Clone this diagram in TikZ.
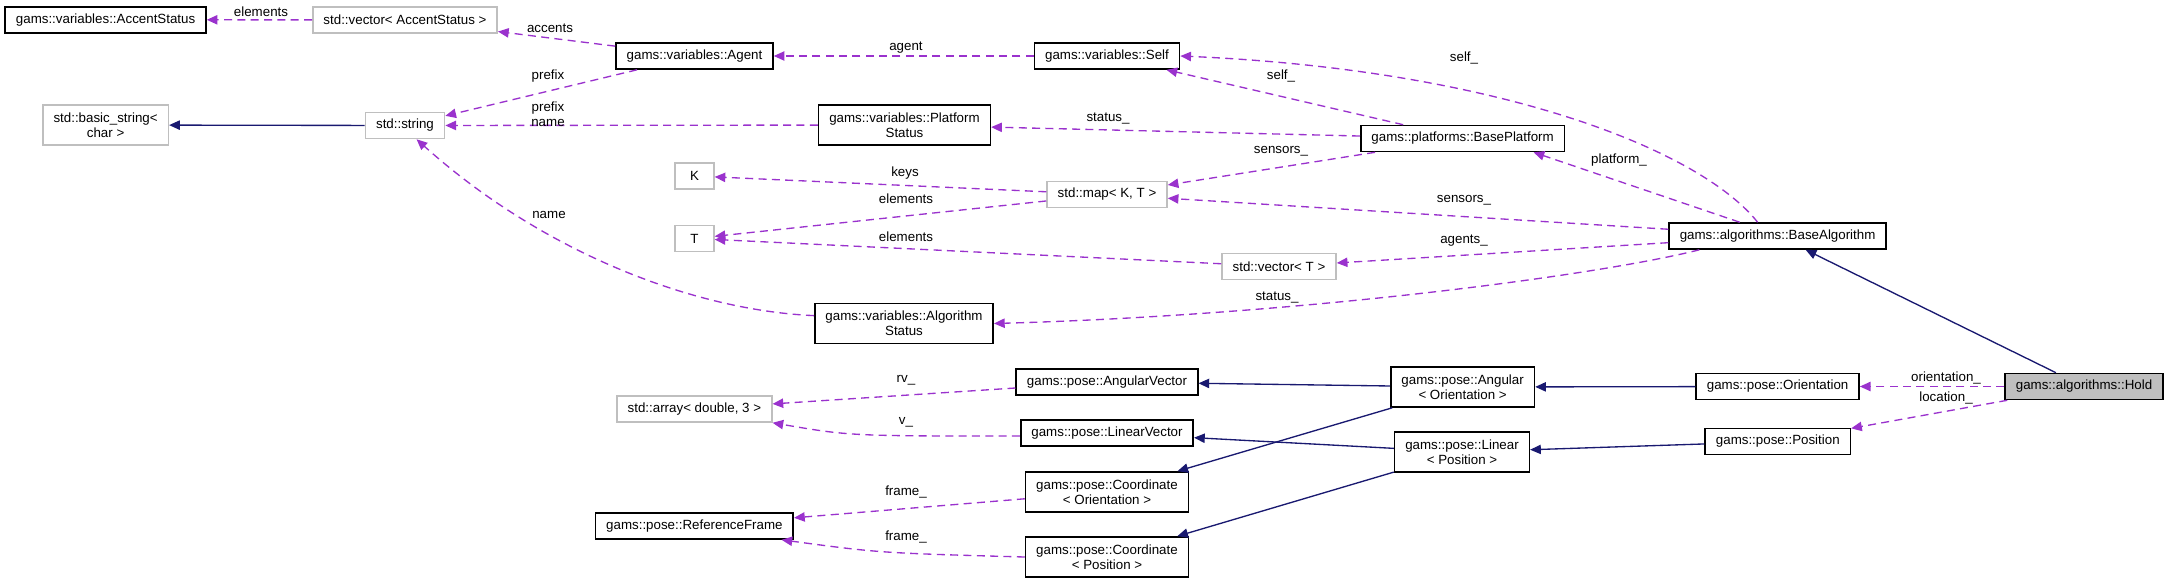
\documentclass[tikz,border=0pt]{standalone}
\usepackage{fontspec}
\setmainfont{Liberation Sans}
\usetikzlibrary{arrows.meta}
\definecolor{usecol}{HTML}{9A32CD}
\definecolor{inhcol}{HTML}{191970}
\definecolor{undoc}{HTML}{BFBFBF}

\begin{document}
\begin{tikzpicture}[x=0.75pt, y=-0.75pt,
    every node/.style={font=\fontsize{10}{11.25}\selectfont},
    cls/.style={draw=black, line width=1.2pt, inner xsep=8pt, inner ysep=0pt, minimum height=19.5pt, align=center},
    ext/.style={cls, draw=undoc},
    two/.style={minimum height=30pt},
    usage/.style={draw=usecol, line width=1pt, dash pattern=on 6pt off 4pt, -{Triangle[length=8pt,width=7pt]}},
    inh/.style={draw=inhcol, line width=1pt, -{Triangle[length=8pt,width=7pt]}},
    lbl/.style={inner sep=0pt, align=center}]
        \useasboundingbox (0,0) rectangle (2168,583);

        % classes
        \node[cls] (acc) at (105.6,19.7) {gams::variables::AccentStatus};
        \node[ext] (vacc) at (405,20) {std::vector< AccentStatus >};
        \node[cls] (agent) at (694.5,56) {gams::variables::Agent};
        \node[ext, two] (bstr) at (105.6,125) {std::basic\_string<\\char >};
        \node[ext] (str) at (405,125.5) {std::string};
        \node[cls] (self) at (1107,56) {gams::variables::Self};
        \node[cls, two] (pstat) at (904.5,125) {gams::variables::Platform\\Status};
        \node[cls] (bplat) at (1462.6,138.5) {gams::platforms::BasePlatform};
        \node[ext, minimum width=29pt] (kk) at (694.5,176) {K};
        \node[ext, minimum width=29pt] (tt) at (694.5,238.5) {T};
        \node[ext] (map) at (1107,194.5) {std::map< K, T >};
        \node[ext] (vt) at (1279,266.5) {std::vector< T >};
        \node[cls] (balg) at (1777.6,236) {gams::algorithms::BaseAlgorithm};
        \node[cls, two] (astat) at (904,323.5) {gams::variables::Algorithm\\Status};
        \node[cls] (avec) at (1107,382) {gams::pose::AngularVector};
        \node[ext] (arr) at (694.4,409) {std::array< double, 3 >};
        \node[cls] (lvec) at (1107,433) {gams::pose::LinearVector};
        \node[cls, two] (cori) at (1107,492) {gams::pose::Coordinate\\< Orientation >};
        \node[cls] (rf) at (694.4,526) {gams::pose::ReferenceFrame};
        \node[cls, two] (cpos) at (1107,557) {gams::pose::Coordinate\\< Position >};
        \node[cls, two] (ang) at (1462.6,387) {gams::pose::Angular\\< Orientation >};
        \node[cls, two] (lin) at (1462,452) {gams::pose::Linear\\< Position >};
        \node[cls] (ori) at (1777.6,386.5) {gams::pose::Orientation};
        \node[cls] (pos) at (1777.8,441.5) {gams::pose::Position};
        \node[cls, fill=undoc] (hold) at (2084,386.5) {gams::algorithms::Hold};

        % inheritance
        \draw[inh] (str) -- (bstr);
        \draw[inh] (hold) -- (balg);
        \draw[inh] (ori) -- (ang);
        \draw[inh] (pos) -- (lin);
        \draw[inh] (ang) -- (avec);
        \draw[inh] (ang) -- (cori);
        \draw[inh] (lin) -- (lvec);
        \draw[inh] (lin) -- (cpos);

        % members
        \draw[usage] (vacc) -- (acc) node[lbl] at (261,12) {elements};
        \draw[usage] (agent) -- (vacc) node[lbl] at (550,28) {accents};
        \draw[usage] (agent) -- (str) node[lbl] at (548,76) {prefix};
        \draw[usage] (self) -- (agent) node[lbl] at (906,48) {agent};
        \draw[usage] (pstat) -- (str) node[lbl] at (548,114) {prefix\\name};
        \draw[usage] (astat.175) .. controls (690,310) and (540,250) .. (str.-50) node[lbl] at (549,215) {name};
        \draw[usage] (bplat) -- (self) node[lbl] at (1281,76) {self\_};
        \draw[usage] (bplat) -- (pstat) node[lbl] at (1108,119) {status\_};
        \draw[usage] (bplat) -- (map) node[lbl] at (1281,151) {sensors\_};
        \draw[usage] (map) -- (kk) node[lbl] at (905,173) {keys};
        \draw[usage] (map) -- (tt) node[lbl] at (906,199) {elements};
        \draw[usage] (vt) -- (tt) node[lbl] at (906,237) {elements};
        \draw[usage] ([xshift=-15pt]balg.north) .. controls (1700,150) and (1500,70) .. (self.east) node[lbl] at (1464,58) {self\_};
        \draw[usage] (balg.160) -- (bplat.-11) node[lbl] at (1619,160) {platform\_};
        \draw[usage] (balg) -- (map) node[lbl] at (1464,200) {sensors\_};
        \draw[usage] (balg) -- (vt) node[lbl] at (1464,241) {agents\_};
        \draw[usage] (balg.-170) .. controls (1600,275) and (1300,315) .. (astat.east) node[lbl] at (1277,298) {status\_};
        \draw[usage] (hold) -- (ori) node[lbl] at (1946,378) {orientation\_};
        \draw[usage] (hold) -- (pos) node[lbl] at (1946,398) {location\_};
        \draw[usage] (avec) -- (arr) node[lbl] at (906,380) {rv\_};
        \draw[usage] (lvec.-178) .. controls (850,436) .. (arr.-10) node[lbl] at (906,422) {v\_};
        \draw[usage] (cori) -- (rf) node[lbl] at (906,492) {frame\_};
        \draw[usage] (cpos.west) .. controls (880,553) .. (rf.-9) node[lbl] at (906,537) {frame\_};
\end{tikzpicture}
\end{document}
